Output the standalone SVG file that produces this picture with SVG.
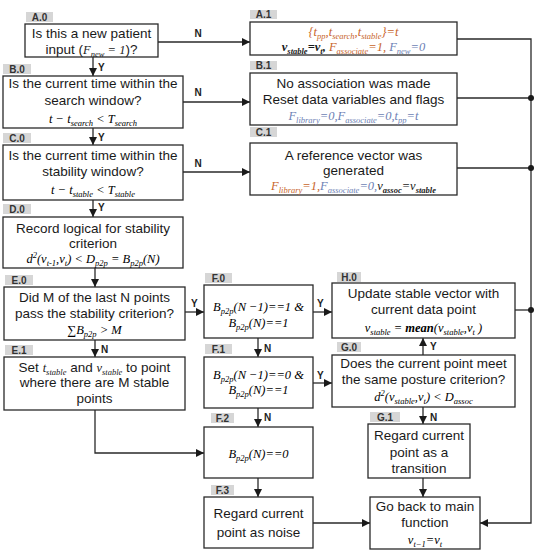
<svg xmlns="http://www.w3.org/2000/svg" width="540" height="551" viewBox="0 0 540 551">
<defs>
<style>
.box{fill:#fff;stroke:#2a2a2a;stroke-width:1.3}
.lbl{fill:#d6d6d6}
.lt{font-family:"Liberation Sans",Arial,sans-serif;font-weight:bold;font-size:10px;fill:#333;text-anchor:middle}
.t{font-family:"Liberation Sans",Arial,sans-serif;font-size:13.5px;fill:#1a1a1a;text-anchor:middle}
.m{font-family:"Liberation Serif","Times New Roman",serif;font-style:italic;font-size:12.5px}
.s{font-size:8.5px}
.yn{font-family:"Liberation Sans",Arial,sans-serif;font-weight:bold;font-size:10px;fill:#222}
.or{fill:#c8642a}
.bl{fill:#6d7fb5}
.bk{fill:#1a1a1a}
.ln{fill:none;stroke:#2a2a2a;stroke-width:1.3}
.arr{marker-end:url(#ah)}
</style>
<marker id="ah" viewBox="0 0 10 10" refX="10" refY="5" markerWidth="8" markerHeight="8" markerUnits="userSpaceOnUse" orient="auto"><path d="M0,0 L10,5 L0,10 z" fill="#1a1a1a"/></marker>
</defs>
<rect width="540" height="551" fill="#fff"/>

<g id="connectors">
<line class="ln arr" x1="93" y1="57" x2="93" y2="76"/>
<line class="ln arr" x1="158" y1="42" x2="250" y2="42"/>
<line class="ln arr" x1="93" y1="128" x2="93" y2="145"/>
<line class="ln arr" x1="183" y1="102" x2="250" y2="102"/>
<line class="ln arr" x1="183" y1="172" x2="250" y2="172"/>
<line class="ln arr" x1="93" y1="200" x2="93" y2="217"/>
<line class="ln arr" x1="95" y1="268" x2="95" y2="287"/>
<line class="ln arr" x1="185" y1="312" x2="204" y2="312"/>
<line class="ln arr" x1="95" y1="340" x2="95" y2="357"/>
<polyline class="ln arr" points="95,410 95,453 204,453"/>
<line class="ln arr" x1="313" y1="312" x2="332" y2="312"/>
<line class="ln arr" x1="258" y1="338" x2="258" y2="357"/>
<line class="ln arr" x1="313" y1="383" x2="332" y2="383"/>
<line class="ln arr" x1="258" y1="408" x2="258" y2="427"/>
<line class="ln arr" x1="258" y1="478" x2="258" y2="497"/>
<line class="ln arr" x1="313" y1="523" x2="370" y2="523"/>
<line class="ln arr" x1="423" y1="355" x2="423" y2="338"/>
<line class="ln arr" x1="423" y1="407" x2="423" y2="424"/>
<line class="ln arr" x1="423" y1="478" x2="423" y2="497"/>
<polyline class="ln arr" points="457,39 531,39 531,523 480,523"/>
<line class="ln" x1="457" y1="98" x2="531" y2="98"/>
<line class="ln" x1="457" y1="168" x2="531" y2="168"/>
<line class="ln" x1="515" y1="310" x2="531" y2="310"/>
<circle cx="531" cy="98" r="3" fill="#1a1a1a"/>
<circle cx="531" cy="168" r="3" fill="#1a1a1a"/>
<circle cx="531" cy="310" r="3" fill="#1a1a1a"/>
<text class="yn" x="198" y="37" text-anchor="middle">N</text>
<text class="yn" x="198" y="96" text-anchor="middle">N</text>
<text class="yn" x="198" y="167" text-anchor="middle">N</text>
<text class="yn" x="98" y="71">Y</text>
<text class="yn" x="98" y="141">Y</text>
<text class="yn" x="98" y="211">Y</text>
<text class="yn" x="191" y="307">Y</text>
<text class="yn" x="101" y="353">N</text>
<text class="yn" x="317" y="307">Y</text>
<text class="yn" x="264" y="352">N</text>
<text class="yn" x="317" y="379">Y</text>
<text class="yn" x="264" y="421">N</text>
<text class="yn" x="430" y="350">Y</text>
<text class="yn" x="430" y="421">N</text>
</g>

<g id="A0">
<rect class="lbl" x="26" y="12" width="27" height="10"/><text class="lt" x="39.5" y="20.5">A.0</text>
<rect class="box" x="25" y="24" width="133" height="33"/>
<text class="t" x="91.5" y="38">Is this a new patient</text>
<text class="t" x="91.5" y="54">input (<tspan class="m">F</tspan><tspan class="m s" dy="3">new</tspan><tspan class="m" dy="-3"> = 1</tspan>)?</text>
</g>

<g id="A1">
<rect class="lbl" x="250" y="10" width="27" height="9"/><text class="lt" x="263.5" y="18">A.1</text>
<rect class="box" x="250" y="22" width="207" height="33"/>
<text class="m or" x="353.5" y="36" text-anchor="middle">{t<tspan class="s" dy="3">pp</tspan><tspan dy="-3">,t</tspan><tspan class="s" dy="3">search</tspan><tspan dy="-3">,t</tspan><tspan class="s" dy="3">stable</tspan><tspan dy="-3">}=t</tspan></text>
<text class="m" x="353.5" y="51" text-anchor="middle"><tspan class="bk" font-weight="bold">v</tspan><tspan class="s bk" font-weight="bold" dy="3">stable</tspan><tspan class="bk" font-weight="bold" dy="-3">=v</tspan><tspan class="s bk" font-weight="bold" dy="3">t</tspan><tspan class="bk" font-weight="bold" dy="-3">,</tspan><tspan class="or"> F</tspan><tspan class="s or" dy="3">associate</tspan><tspan class="or" dy="-3">=1,</tspan><tspan class="bl"> F</tspan><tspan class="s bl" dy="3">new</tspan><tspan class="bl" dy="-3">=0</tspan></text>
</g>

<g id="B0">
<rect class="lbl" x="3" y="64" width="28" height="10"/><text class="lt" x="17" y="72.5">B.0</text>
<rect class="box" x="3" y="76" width="180" height="52"/>
<text class="t" x="93" y="88">Is the current time within the</text>
<text class="t" x="93" y="105">search window?</text>
<text class="m" x="93" y="123" text-anchor="middle">t − t<tspan class="s" dy="3">search</tspan><tspan dy="-3"> &lt; T</tspan><tspan class="s" dy="3">search</tspan></text>
</g>

<g id="B1">
<rect class="lbl" x="250" y="61" width="27" height="9"/><text class="lt" x="263.5" y="69">B.1</text>
<rect class="box" x="250" y="73" width="207" height="52"/>
<text class="t" x="353.5" y="88">No association was made</text>
<text class="t" x="353.5" y="104">Reset data variables and flags</text>
<text class="m bl" x="353.5" y="120" text-anchor="middle">F<tspan class="s" dy="3">library</tspan><tspan dy="-3">=0,F</tspan><tspan class="s" dy="3">associate</tspan><tspan dy="-3">=0,t</tspan><tspan class="s" dy="3">pp</tspan><tspan dy="-3">=t</tspan></text>
</g>

<g id="C0">
<rect class="lbl" x="3" y="133" width="28" height="10"/><text class="lt" x="17" y="141.5">C.0</text>
<rect class="box" x="3" y="145" width="180" height="55"/>
<text class="t" x="93" y="160">Is the current time within the</text>
<text class="t" x="93" y="176">stability window?</text>
<text class="m" x="93" y="194" text-anchor="middle">t − t<tspan class="s" dy="3">stable</tspan><tspan dy="-3"> &lt; T</tspan><tspan class="s" dy="3">stable</tspan></text>
</g>

<g id="C1">
<rect class="lbl" x="250" y="127" width="27" height="10"/><text class="lt" x="263.5" y="135.5">C.1</text>
<rect class="box" x="250" y="143" width="207" height="52"/>
<text class="t" x="353.5" y="160">A reference vector was</text>
<text class="t" x="353.5" y="175">generated</text>
<text class="m" x="353.5" y="190" text-anchor="middle"><tspan class="or">F</tspan><tspan class="s or" dy="3">library</tspan><tspan class="or" dy="-3">=1,</tspan><tspan class="bl">F</tspan><tspan class="s bl" dy="3">associate</tspan><tspan class="bl" dy="-3">=0,</tspan><tspan class="bk">v</tspan><tspan class="s bk" font-weight="bold" dy="3">assoc</tspan><tspan class="bk" dy="-3">=v</tspan><tspan class="s bk" font-weight="bold" dy="3">stable</tspan></text>
</g>

<g id="D0">
<rect class="lbl" x="3" y="204" width="28" height="10"/><text class="lt" x="17" y="212.5">D.0</text>
<rect class="box" x="3" y="217" width="180" height="51"/>
<text class="t" x="93" y="233">Record logical for stability</text>
<text class="t" x="93" y="248">criterion</text>
<text class="m" x="93" y="263" text-anchor="middle">d<tspan class="s" dy="-5">2</tspan><tspan dy="5">(v</tspan><tspan class="s" dy="3">t-1</tspan><tspan dy="-3">,v</tspan><tspan class="s" dy="3">t</tspan><tspan dy="-3">) &lt; D</tspan><tspan class="s" dy="3">p2p</tspan><tspan dy="-3"> = B</tspan><tspan class="s" dy="3">p2p</tspan><tspan dy="-3">(N)</tspan></text>
</g>

<g id="E0">
<rect class="lbl" x="5" y="275" width="28" height="10"/><text class="lt" x="19" y="283.5">E.0</text>
<rect class="box" x="4" y="287" width="181" height="53"/>
<text class="t" x="94.5" y="302">Did M of the last N points</text>
<text class="t" x="94.5" y="318">pass the stability criterion?</text>
<text class="m" x="94.5" y="334" text-anchor="middle">∑B<tspan class="s" dy="3">p2p</tspan><tspan dy="-3"> &gt; M</tspan></text>
</g>

<g id="E1">
<rect class="lbl" x="5" y="345" width="28" height="10"/><text class="lt" x="19" y="353.5">E.1</text>
<rect class="box" x="4" y="357" width="181" height="53"/>
<text class="t" x="94.5" y="372">Set <tspan class="m">t</tspan><tspan class="m s" dy="3">stable</tspan><tspan dy="-3"> and </tspan><tspan class="m">v</tspan><tspan class="m s" dy="3">stable</tspan><tspan dy="-3"> to point</tspan></text>
<text class="t" x="94.5" y="387">where there are M stable</text>
<text class="t" x="94.5" y="403">points</text>
</g>

<g id="F0">
<rect class="lbl" x="205" y="273" width="27" height="10"/><text class="lt" x="218.5" y="281.5">F.0</text>
<rect class="box" x="204" y="285" width="109" height="53"/>
<text class="m" x="258.5" y="311" text-anchor="middle">B<tspan class="s" dy="3">p2p</tspan><tspan dy="-3">(N −1)==1 &amp;</tspan></text>
<text class="m" x="258.5" y="327" text-anchor="middle">B<tspan class="s" dy="3">p2p</tspan><tspan dy="-3">(N)==1</tspan></text>
</g>

<g id="F1">
<rect class="lbl" x="205" y="344" width="27" height="10"/><text class="lt" x="218.5" y="352.5">F.1</text>
<rect class="box" x="204" y="357" width="109" height="51"/>
<text class="m" x="258.5" y="379" text-anchor="middle">B<tspan class="s" dy="3">p2p</tspan><tspan dy="-3">(N −1)==0 &amp;</tspan></text>
<text class="m" x="258.5" y="394" text-anchor="middle">B<tspan class="s" dy="3">p2p</tspan><tspan dy="-3">(N)==1</tspan></text>
</g>

<g id="F2">
<rect class="lbl" x="211" y="413" width="23" height="10"/><text class="lt" x="222.5" y="421.5">F.2</text>
<rect class="box" x="204" y="427" width="109" height="51"/>
<text class="m" x="258.5" y="458" text-anchor="middle">B<tspan class="s" dy="3">p2p</tspan><tspan dy="-3">(N)==0</tspan></text>
</g>

<g id="F3">
<rect class="lbl" x="211" y="485" width="23" height="10"/><text class="lt" x="222.5" y="493.5">F.3</text>
<rect class="box" x="204" y="497" width="109" height="51"/>
<text class="t" x="258.5" y="518">Regard current</text>
<text class="t" x="258.5" y="537">point as noise</text>
</g>

<g id="H0">
<rect class="lbl" x="337" y="272" width="24" height="10"/><text class="lt" x="349" y="280.5">H.0</text>
<rect class="box" x="332" y="283" width="183" height="55"/>
<text class="t" x="423.5" y="298">Update stable vector with</text>
<text class="t" x="423.5" y="314">current data point</text>
<text class="m" x="423.5" y="332" text-anchor="middle">v<tspan class="s" dy="3">stable</tspan><tspan dy="-3"> = </tspan><tspan font-weight="bold">mean</tspan><tspan>(v</tspan><tspan class="s" dy="3">stable</tspan><tspan dy="-3">,v</tspan><tspan class="s" dy="3">t</tspan><tspan dy="-3"> )</tspan></text>
</g>

<g id="G0">
<rect class="lbl" x="337" y="342" width="24" height="10"/><text class="lt" x="349" y="350.5">G.0</text>
<rect class="box" x="332" y="355" width="183" height="52"/>
<text class="t" x="423.5" y="368">Does the current point meet</text>
<text class="t" x="423.5" y="384">the same posture criterion?</text>
<text class="m" x="423.5" y="401" text-anchor="middle">d<tspan class="s" dy="-5">2</tspan><tspan dy="5">(v</tspan><tspan class="s" dy="3">stable</tspan><tspan dy="-3">,v</tspan><tspan class="s" dy="3">t</tspan><tspan dy="-3">) &lt; D</tspan><tspan class="s" dy="3">assoc</tspan></text>
</g>

<g id="G1">
<rect class="lbl" x="370" y="412" width="30" height="10"/><text class="lt" x="385" y="420.5">G.1</text>
<rect class="box" x="368" y="424" width="102" height="54"/>
<text class="t" x="419" y="440">Regard current</text>
<text class="t" x="419" y="457">point as a</text>
<text class="t" x="419" y="473">transition</text>
</g>

<g id="GoBack">
<rect class="box" x="370" y="497" width="110" height="52"/>
<text class="t" x="425" y="511">Go back to main</text>
<text class="t" x="425" y="527">function</text>
<text class="m" x="425" y="544" text-anchor="middle">v<tspan class="s" dy="3">t−1</tspan><tspan dy="-3">=v</tspan><tspan class="s" dy="3">t</tspan></text>
</g>
</svg>
